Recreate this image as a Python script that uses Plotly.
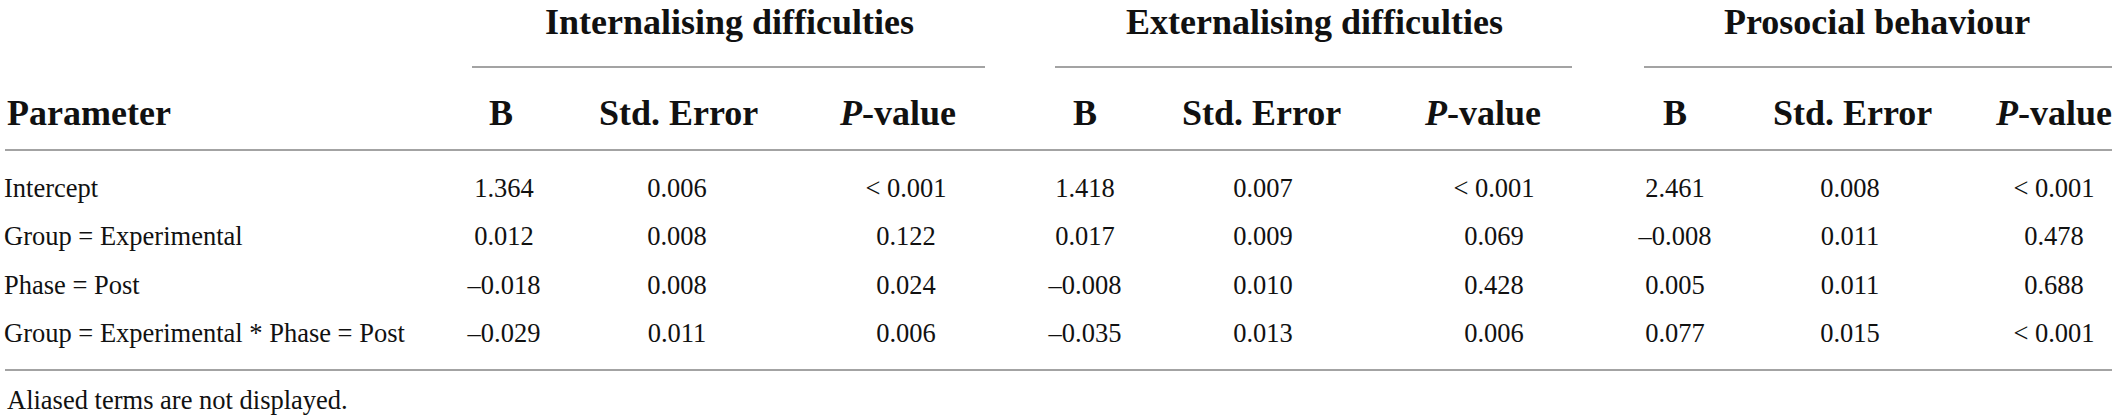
import plotly.graph_objects as go

# table content
groups = ["Internalising difficulties", "Externalising difficulties", "Prosocial behaviour"]
col_heads = ["B", "Std. Error", "<i>P</i>-value"]
params = ["Intercept", "Group = Experimental", "Phase = Post",
          "Group = Experimental * Phase = Post"]

int_b = ["1.364", "0.012", "–0.018", "–0.029"]
int_se = ["0.006", "0.008", "0.008", "0.011"]
int_p = ["< 0.001", "0.122", "0.024", "0.006"]

ext_b = ["1.418", "0.017", "–0.008", "–0.035"]
ext_se = ["0.007", "0.009", "0.010", "0.013"]
ext_p = ["< 0.001", "0.069", "0.428", "0.006"]

pro_b = ["2.461", "–0.008", "0.005", "0.077"]
pro_se = ["0.008", "0.011", "0.011", "0.015"]
pro_p = ["< 0.001", "0.478", "0.688", "< 0.001"]

footnote = "Aliased terms are not displayed."

W, H = 2117, 420
FONT = "Liberation Serif"
INK = "#111111"
RULE = "#a3a3a3"

# layout in pixel units
group_x = [729, 1314, 1877]
group_span = [(472, 985), (1055, 1572), (1644, 2112)]
head_x = [[501, 678, 897], [1085, 1261, 1482], [1675, 1852, 2053]]
val_x = [[504, 677, 906], [1085, 1263, 1494], [1675, 1850, 2054]]
row_y = [190, 238, 287, 335]
y_group, y_group_rule, y_head, y_head_rule, y_bottom, y_note = 22, 67, 113, 150, 370, 400

columns = [[int_b, int_se, int_p], [ext_b, ext_se, ext_p], [pro_b, pro_se, pro_p]]

fig = go.Figure()

body_font = dict(family=FONT, size=26.5, color=INK)
head_font = dict(family=FONT, size=36, color=INK)

# row labels
fig.add_trace(go.Scatter(x=[4] * len(params), y=row_y, text=params, mode="text",
                         textposition="middle right", textfont=body_font,
                         hoverinfo="skip", showlegend=False))

for g, cols in enumerate(columns):
    for c, vals in enumerate(cols):
        fig.add_trace(go.Scatter(x=[val_x[g][c]] * len(vals), y=row_y, text=vals,
                                 mode="text", textposition="middle center",
                                 textfont=body_font, hoverinfo="skip", showlegend=False))

# headers
fig.add_annotation(x=5, y=y_head, text="<b>Parameter</b>", showarrow=False,
                   xanchor="left", yanchor="middle", font=head_font)
for g, name in enumerate(groups):
    fig.add_annotation(x=group_x[g], y=y_group, text="<b>" + name + "</b>", showarrow=False,
                       xanchor="center", yanchor="middle", font=head_font)
    x0, x1 = group_span[g]
    fig.add_shape(type="line", x0=x0, x1=x1, y0=y_group_rule, y1=y_group_rule,
                  line=dict(color=RULE, width=2))
    for c, h in enumerate(col_heads):
        fig.add_annotation(x=head_x[g][c], y=y_head, text="<b>" + h + "</b>", showarrow=False,
                           xanchor="center", yanchor="middle", font=head_font)

for yy in (y_head_rule, y_bottom):
    fig.add_shape(type="line", x0=5, x1=2112, y0=yy, y1=yy, line=dict(color=RULE, width=2))

fig.add_annotation(x=5, y=y_note, text=footnote, showarrow=False,
                   xanchor="left", yanchor="middle", font=body_font)

fig.update_layout(
    width=W, height=H,
    margin=dict(l=0, r=0, t=0, b=0),
    paper_bgcolor="white", plot_bgcolor="white",
    xaxis=dict(range=[0, W], visible=False, fixedrange=True),
    yaxis=dict(range=[H, 0], visible=False, fixedrange=True),
    showlegend=False,
)

# drop the browser's default body margin so the table sits at the page edge
fig.write_html("out.html", config={"displayModeBar": False},
               post_script="document.body.style.margin='0';")
